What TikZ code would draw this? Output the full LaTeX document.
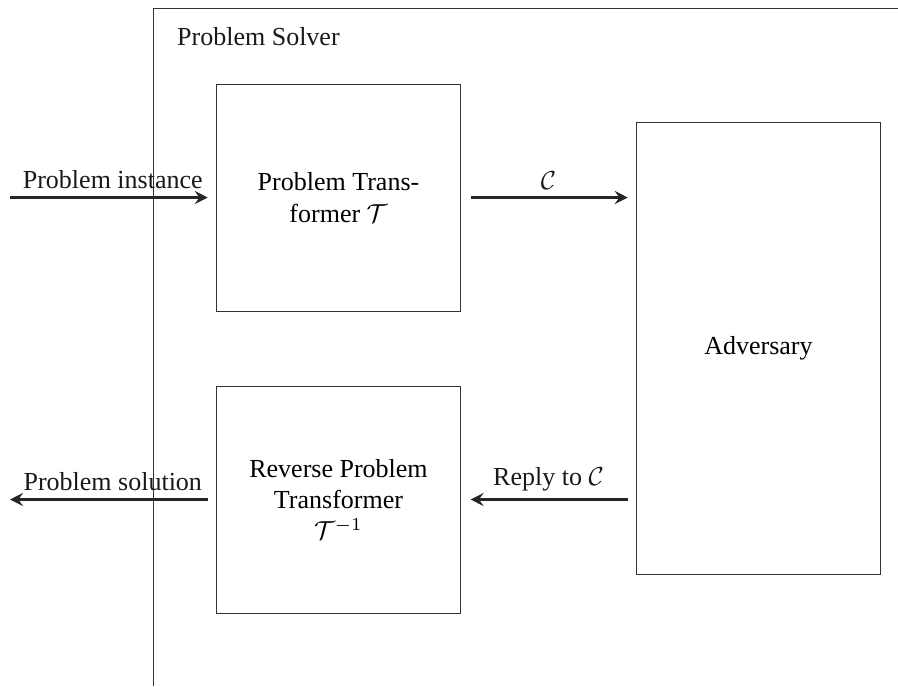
\documentclass[tikz,border=0pt]{standalone}
\usepackage{fontspec}
\setmainfont{Liberation Serif}
\usetikzlibrary{arrows.meta}
\begin{document}
\begin{tikzpicture}[x=0.3846pt,y=-0.3846pt,
  box/.style={draw=black!80,line width=0.38pt,minimum width=94.2pt,minimum height=87.3pt,align=center,inner sep=2pt,font=\fontsize{10pt}{12pt}\selectfont},
  flow/.style={line width=0.85pt,black!85,-{Stealth[length=5pt,width=5pt,inset=1.8pt]}},
  lbl/.style={font=\fontsize{10pt}{12pt}\selectfont,text=black!90},
  frame/.style={draw=black!80,line width=0.38pt}]
\useasboundingbox (0,0) rectangle (898,686);
\draw[frame] (153,686) -- (153,8) -- (898,8);
\node[lbl,anchor=west] (ps) at (168,37) {Problem Solver};
\node[box] (T) at (338.5,197.5) {Problem Trans-\\former $\mathcal{T}$};
\node[box] (R) at (338.5,499.5) {Reverse Problem\\Transformer\\$\mathcal{T}^{-1}$};
\node[box,minimum height=174.2pt] (A) at (758.5,348.5) {Adversary};
\coordinate (in) at (10,197.5);
\coordinate (out) at (10,499.5);
\draw[flow,shorten >=3pt] (in) -- node[lbl,above,yshift=-0.5pt] {Problem instance} (T.west);
\draw[flow,shorten <=3.5pt,shorten >=3pt] (T.east) -- node[lbl,above,yshift=-0.5pt] {$\mathcal{C}$} (T.east -| A.west);
\draw[flow,shorten <=3pt,shorten >=3.5pt] (R.east -| A.west) -- node[lbl,above,yshift=-0.5pt] {Reply to $\mathcal{C}$} (R.east);
\draw[flow,shorten <=3pt] (R.west) -- node[lbl,above,yshift=-0.5pt] {Problem solution} (out);
\end{tikzpicture}
\end{document}
